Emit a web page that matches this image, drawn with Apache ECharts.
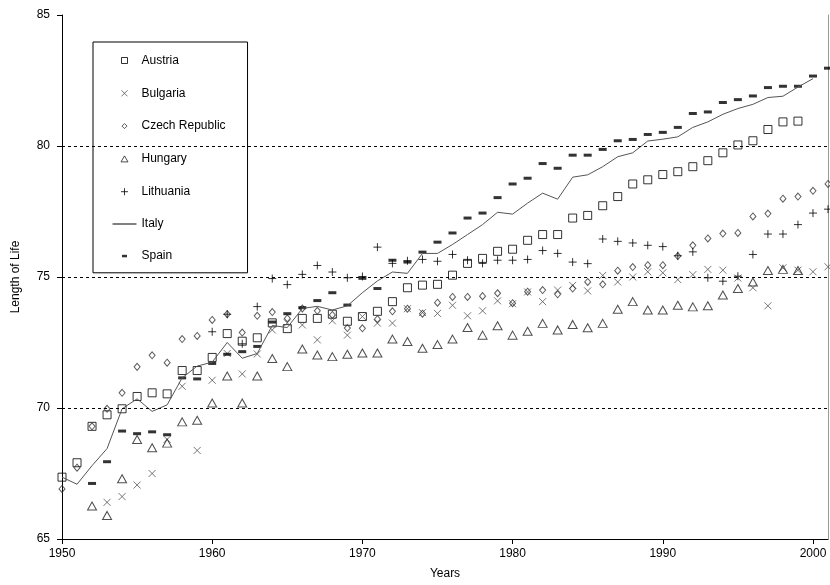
<!DOCTYPE html>
<html>
<head>
<meta charset="utf-8">
<script src="https://cdn.jsdelivr.net/npm/echarts@6/dist/echarts.min.js"></script>
<style>html,body{margin:0;padding:0;background:#fff}#c{width:830px;height:585px}</style>
</head>
<body>
<div id="c"></div>
<script>
const years = [1950,1951,1952,1953,1954,1955,1956,1957,1958,1959,
  1960,1961,1962,1963,1964,1965,1966,1967,1968,1969,
  1970,1971,1972,1973,1974,1975,1976,1977,1978,1979,
  1980,1981,1982,1983,1984,1985,1986,1987,1988,1989,
  1990,1991,1992,1993,1994,1995,1996,1997,1998,1999,
  2000,2001];
const austria = [67.36,67.91,69.30,69.74,69.97,70.44,70.58,70.54,71.43,71.43,
  71.93,72.84,72.55,72.68,73.25,73.03,73.42,73.42,73.58,73.31,
  73.49,73.69,74.06,74.59,74.69,74.72,75.07,75.52,75.71,75.98,
  76.06,76.40,76.62,76.62,77.25,77.35,77.72,78.07,78.55,78.71,
  78.91,79.02,79.21,79.44,79.74,80.04,80.20,80.63,80.92,80.95,
  null,null];
const bulgaria = [null,null,null,66.40,66.62,67.06,67.50,68.80,70.83,68.38,
  71.06,72.08,71.30,72.06,72.98,73.25,73.17,72.60,73.33,72.78,
  73.49,73.24,73.24,73.79,73.64,73.61,73.92,73.52,73.71,74.09,
  73.98,74.43,74.06,74.50,74.68,74.47,75.06,74.81,75.00,75.20,
  75.16,74.90,75.09,75.29,75.26,74.96,74.59,73.90,75.35,75.26,
  75.20,75.39];
const czech = [66.91,67.72,69.30,69.97,70.58,71.57,72.01,71.73,72.63,72.75,
  73.36,73.58,72.88,73.52,73.66,73.42,73.80,73.71,73.55,73.05,
  73.04,73.39,73.69,73.79,73.60,74.02,74.24,74.24,74.27,74.38,
  74.00,74.44,74.50,74.34,74.56,74.81,74.72,75.24,75.38,75.45,
  75.45,75.80,76.21,76.47,76.66,76.68,77.31,77.42,77.99,78.07,
  78.29,78.55];
const hungary = [null,null,66.26,65.90,67.30,68.80,68.48,68.66,69.47,69.53,
  70.19,71.22,70.19,71.22,71.89,71.58,72.25,72.02,71.96,72.05,
  72.10,72.10,72.63,72.54,72.28,72.42,72.63,73.07,72.78,73.14,
  72.78,72.93,73.23,72.98,73.19,73.06,73.23,73.77,74.06,73.74,
  73.74,73.92,73.86,73.90,74.31,74.56,74.81,75.25,75.29,75.25,
  null,null];
const lithuania = [null,null,null,null,null,null,null,null,null,null,
  72.91,73.58,72.45,73.87,74.94,74.71,75.10,75.44,75.19,74.97,
  75.02,76.14,75.52,75.62,75.67,75.60,75.86,75.64,75.52,75.64,
  75.64,75.67,76.01,75.90,75.57,75.51,76.45,76.36,76.30,76.21,
  76.16,75.81,75.96,74.97,74.84,75.03,75.86,76.64,76.64,77.00,
  77.44,77.59];
const italy = [67.36,67.09,67.80,68.45,69.97,70.35,69.87,70.12,71.15,71.60,
  71.75,72.50,71.90,72.08,73.15,73.07,73.80,73.88,73.74,73.90,
  74.40,74.85,75.19,75.14,75.90,75.90,76.24,76.62,77.00,77.47,
  77.40,77.82,78.20,77.97,78.81,78.90,79.21,79.59,79.74,80.19,
  80.26,80.35,80.71,80.92,81.21,81.43,81.59,81.85,81.90,82.25,
  82.57,null];
const spain = [null,null,67.12,67.95,69.12,69.02,69.09,68.98,71.15,71.11,
  71.70,72.05,72.15,72.35,73.28,73.60,73.83,74.10,74.40,73.93,
  74.95,74.56,75.64,75.57,75.95,76.33,76.68,77.25,77.44,78.03,
  78.55,78.77,79.33,79.15,79.65,79.65,79.87,80.20,80.25,80.44,
  80.52,80.71,81.24,81.30,81.66,81.77,81.91,82.23,82.28,82.28,
  82.67,82.97];
const gridValues = [70, 75, 80];

function pairs(arr) {
  const out = [];
  arr.forEach((v, i) => { if (v !== null) out.push([years[i], v]); });
  return out;
}

const FONT = 'Liberation Sans, Arial, sans-serif';
const sym = {
  square: 'path://M0 0H10V10H0Z',
  cross: 'path://M0 0L10 10M10 0L0 10',
  diamond: 'path://M5 0L10 5L5 10L0 5Z',
  triangle: 'path://M5 0L10 9H0Z',
  plus: 'path://M5 0V10M0 5H10'
};
const leg = {
  square: 'path://M0 0M24 14M9 4H15V10H9Z',
  cross: 'path://M0 0M24 14M9 4L15 10M15 4L9 10',
  diamond: 'path://M0 0M24 14M12 4.5L14.5 7L12 9.5L9.5 7Z',
  triangle: 'path://M0 0M24 14M12 4L15.5 10H8.5Z',
  plus: 'path://M0 0M24 14M12 3.5V10.5M8.5 7H15.5',
  line: 'path://M0 0M24 14M0 6.5H24V7.5H0Z',
  dash: 'path://M0 0M24 14M9.5 6H14.5V8.5H9.5Z'
};

function scatter(name, data, symbol, size, color, filled) {
  return {
    name: name, type: 'scatter', data: pairs(data), symbol: symbol, symbolSize: size,
    itemStyle: filled ? { color: color, borderWidth: 0 } :
      { color: 'rgba(0,0,0,0)', borderColor: color, borderWidth: 1 },
    emphasis: { disabled: true }, animation: false
  };
}

const chart = echarts.init(document.getElementById('c'), null, { renderer: 'canvas' });
chart.setOption({
  animation: false,
  backgroundColor: '#fff',
  textStyle: { fontFamily: FONT, color: '#000' },
  grid: { left: 62, right: 2, top: 15, bottom: 44 },
  legend: {
    orient: 'vertical', left: 93, top: 42,
    padding: [11, 22, 10, 19],
    itemWidth: 24, itemHeight: 14, itemGap: 17.8,
    backgroundColor: '#fff', borderColor: '#000', borderWidth: 1,
    textStyle: { fontFamily: FONT, fontSize: 12, color: '#000' },
    itemStyle: { borderWidth: 1 },
    data: [
      { name: 'Austria', icon: leg.square },
      { name: 'Bulgaria', icon: leg.cross },
      { name: 'Czech Republic', icon: leg.diamond },
      { name: 'Hungary', icon: leg.triangle },
      { name: 'Lithuania', icon: leg.plus },
      { name: 'Italy', icon: leg.line, itemStyle: { color: '#000', borderWidth: 0 } },
      { name: 'Spain', icon: leg.dash }
    ]
  },
  xAxis: {
    type: 'value', min: 1950, max: 2001, interval: 10,
    name: 'Years', nameLocation: 'middle', nameGap: 29,
    nameTextStyle: { fontFamily: FONT, fontSize: 12, color: '#000' },
    axisLine: { lineStyle: { color: '#000', width: 1 } },
    axisTick: { inside: false, length: 5, lineStyle: { color: '#000' } },
    axisLabel: { fontFamily: FONT, fontSize: 12, color: '#000', margin: 9, showMaxLabel: false,
      formatter: v => (v % 10 === 0 ? String(v) : '') },
    splitLine: { show: false }
  },
  yAxis: [{
    type: 'value', min: 65, max: 85, interval: 5,
    name: 'Length of Life', nameLocation: 'middle', nameGap: 40, nameRotate: 90,
    nameTextStyle: { fontFamily: FONT, fontSize: 12, color: '#000' },
    axisLine: { show: true, lineStyle: { color: '#000', width: 1 } },
    axisTick: { show: true, inside: false, length: 5, lineStyle: { color: '#000' } },
    axisLabel: { fontFamily: FONT, fontSize: 12, color: '#000', margin: 12 },
    splitLine: { show: false }
  }, {
    type: 'value', min: 65, max: 85, position: 'right',
    axisLine: { show: true, lineStyle: { color: '#999', width: 1 } },
    axisTick: { show: false }, axisLabel: { show: false }, splitLine: { show: false }
  }],
  series: [
    Object.assign(scatter('Austria', austria, sym.square, 8, '#000', false), {
      markLine: {
        silent: true, symbol: 'none', label: { show: false },
        lineStyle: { color: '#000', type: [3, 3], width: 1 },
        data: gridValues.map(v => ({ yAxis: v }))
      }
    }),
    scatter('Bulgaria', bulgaria, sym.cross, 7, '#555', false),
    scatter('Czech Republic', czech, sym.diamond, [6, 7], '#333', false),
    scatter('Hungary', hungary, sym.triangle, [9, 8], '#222', false),
    scatter('Lithuania', lithuania, sym.plus, 8, '#000', false),
    {
      name: 'Italy', type: 'line', data: pairs(italy), symbol: 'none', showSymbol: false,
      lineStyle: { color: '#555', width: 1 }, itemStyle: { color: '#555' },
      emphasis: { disabled: true }, animation: false
    },
    scatter('Spain', spain, 'rect', [8, 3], '#000', true)
  ]
});
</script>
</body>
</html>
